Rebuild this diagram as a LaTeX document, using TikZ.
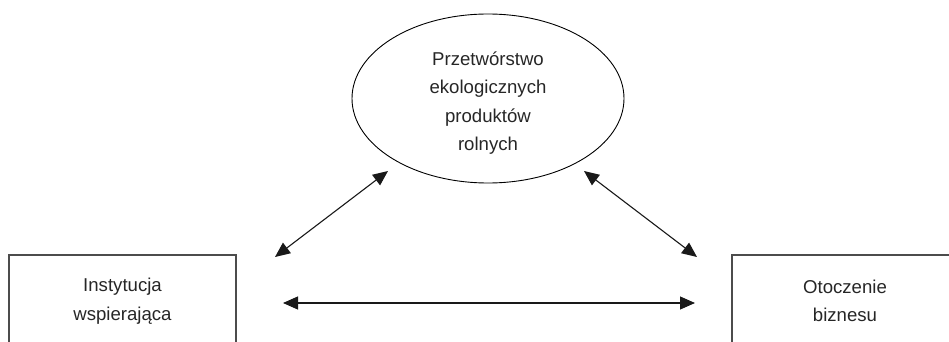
\documentclass[tikz,border=0pt]{standalone}
\usepackage{fontspec}
\setmainfont{Liberation Sans}
\usetikzlibrary{arrows.meta,shapes.geometric}
\begin{document}
\begin{tikzpicture}[x=1pt,y=-1pt,
  lbl/.style={font=\fontsize{18.6}{28.5}\selectfont, align=center, text=black!85},
  boxnode/.style={draw=black!70, line width=1.4pt, rectangle, inner sep=0pt, lbl},
  ellnode/.style={draw=black, line width=0.9pt, ellipse, inner sep=0pt},
  conn/.style={black!90, line width=1.1pt, {Triangle[length=15pt,width=13pt]}-{Triangle[length=15pt,width=13pt]}}
]
\useasboundingbox (0,0) rectangle (949,342);
\clip (0,0) rectangle (949,342);
\node[ellnode, minimum width=272pt, minimum height=169pt] (proc) at (488,98.5) {};
\node[lbl] (proctxt) at (488,103)
  {Przetwórstwo\\ekologicznych\\produktów\\rolnych};
\node[boxnode, minimum width=227pt, minimum height=92pt] (inst) at (122.5,301)
  {Instytucja\\wspierająca};
\node[boxnode, minimum width=226pt, minimum height=92pt] (oto) at (845,301)
  {Otoczenie\\biznesu};
\coordinate (a1) at (275,257);
\coordinate (a2) at (388,171);
\coordinate (b1) at (584,171);
\coordinate (b2) at (697,257);
\coordinate (h1) at (283,303);
\coordinate (h2) at (695,303);
\draw[conn] (a1) -- (a2);
\draw[conn] (b1) -- (b2);
\draw[conn] (h1) -- (h2);
\end{tikzpicture}
\end{document}
